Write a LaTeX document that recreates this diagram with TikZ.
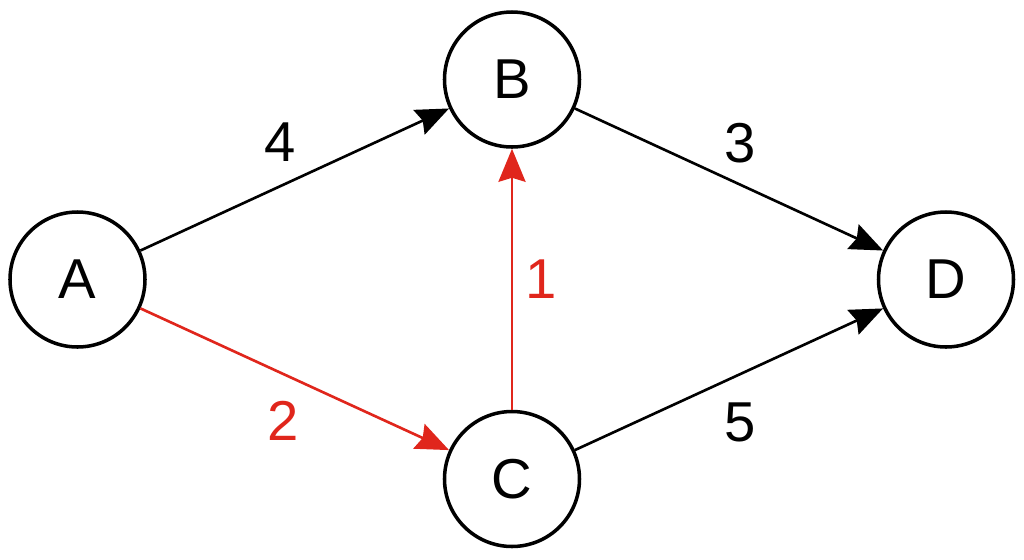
\documentclass[tikz,border=0pt]{standalone}
\usepackage{fontspec}
\setmainfont{Liberation Sans}
\usepackage{xcolor}
\usetikzlibrary{arrows.meta}
\definecolor{pathred}{RGB}{224,38,28}

\begin{document}
\begin{tikzpicture}[
  vertex/.style={draw,circle,line width=1pt,minimum size=1.35cm,inner sep=0pt,font=\fontsize{16}{19}\selectfont},
  edge/.style={line width=0.75pt,-{Stealth[length=3.3mm,width=2.7mm,inset=0.4mm]}},
  short/.style={edge,pathred},
  wt/.style={font=\fontsize{16}{19}\selectfont,inner sep=0pt}]
\useasboundingbox (0,0) rectangle (10.24,5.59);
\node[vertex] (A) at (0.775,2.795) {A};
\node[vertex] (B) at (5.12,4.795) {B};
\node[vertex] (C) at (5.12,0.80) {C};
\node[vertex] (D) at (9.46,2.795) {D};
% weighted edges, shortest path in red
\draw[edge] (A) -- node[wt,xshift=-0.15cm,yshift=0.375cm] {4} (B);
\draw[edge] (B) -- node[wt,xshift=0.11cm,yshift=0.365cm] {3} (D);
\draw[edge] (C) -- node[wt,xshift=0.11cm,yshift=-0.43cm] {5} (D);
\draw[short] (A) -- node[wt,pathred,xshift=-0.12cm,yshift=-0.42cm] {2} (C);
\draw[short] (C) -- node[wt,pathred,xshift=0.29cm] {1} (B);
\end{tikzpicture}
\end{document}
